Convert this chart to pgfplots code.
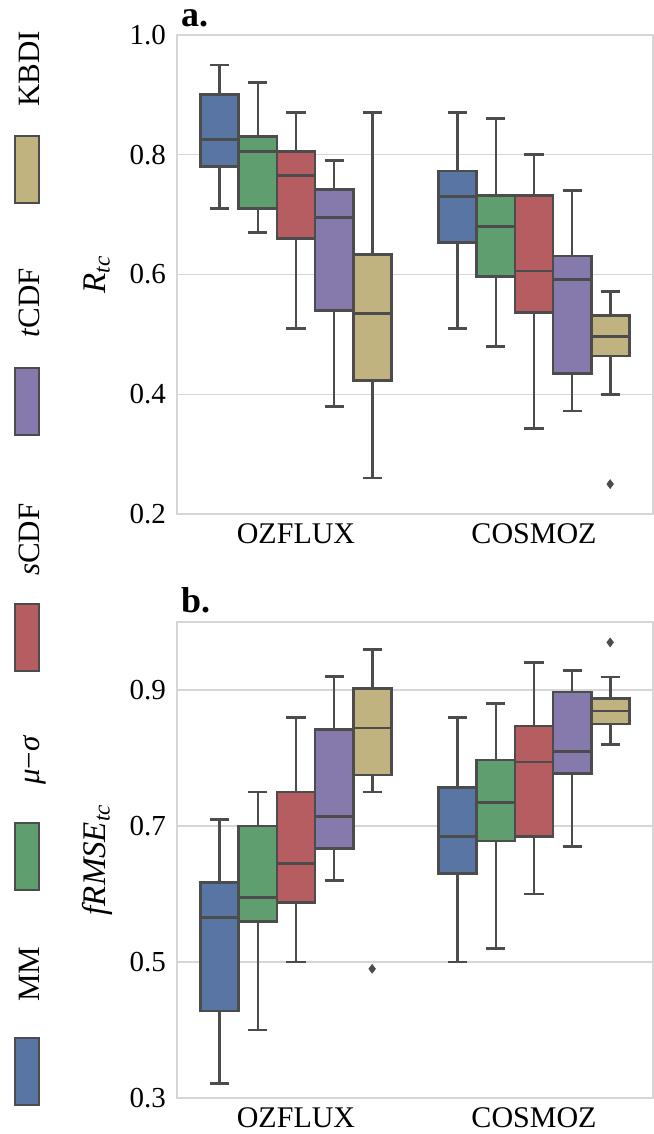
\documentclass[border=0pt]{standalone}
\usepackage{fontspec}
\setmainfont{Liberation Serif}
\usepackage{pgfplots}
\usepgfplotslibrary{statistics}
\pgfplotsset{compat=1.18}

\definecolor{cMM}{HTML}{5975A4}
\definecolor{cMS}{HTML}{5F9E6E}
\definecolor{cSC}{HTML}{B55D60}
\definecolor{cTC}{HTML}{857AAB}
\definecolor{cKB}{HTML}{C1B37F}
\definecolor{lg}{HTML}{4C4C4C}
\definecolor{gridc}{HTML}{D6D6D6}

\pgfplotsset{
  mybox/.style={
    scale only axis, width=476pt,
    xmin=-0.5, xmax=1.5, xtick={0,1}, xticklabels={OZFLUX,COSMOZ},
    major tick length=0pt,
    ymajorgrids, xmajorgrids=false,
    grid style={gridc, line width=1.4pt},
    axis line style={gridc, line width=1.6pt},
    tick label style={inner sep=0pt},
    /pgf/number format/assume math mode=true,
    yticklabel style={font=\fontsize{29}{34}\selectfont, xshift=-11pt, /pgf/number format/fixed, /pgf/number format/fixed zerofill, /pgf/number format/precision=1},
    xticklabel style={font=\fontsize{30}{35}\selectfont, yshift=-9pt},
    ylabel style={at={(axis description cs:-0.151,0.5)}, anchor=base, font=\fontsize{33}{38}\selectfont},
    boxplot/draw direction=y,
    boxplot/box extend=0.16,
    boxplot/whisker extend=0.08,
  },
  bx/.style={draw=lg, fill=#1, line width=2.8pt, solid},
  outl/.style={only marks, mark=diamond*, mark size=4.5pt, mark options={fill=lg, draw=lg, line width=0.5pt}},
}

\begin{document}
\begin{tikzpicture}
\path[use as bounding box] (0pt,0pt) rectangle (653pt,-1134pt);

% ---------- panel a ----------
\begin{axis}[mybox, at={(177pt,-35pt)}, anchor=north west, height=479pt,
  ymin=0.2, ymax=1.0, ytick={0.2,0.4,0.6,0.8,1.0},
  ylabel={\textit{R}\textsubscript{\textit{tc}}}]
% OZFLUX
\addplot[bx=cMM, boxplot prepared={draw position=-0.32, lower whisker=0.71, lower quartile=0.78, median=0.825, upper quartile=0.90, upper whisker=0.95}] coordinates {};
\addplot[bx=cMS, boxplot prepared={draw position=-0.16, lower whisker=0.67, lower quartile=0.71, median=0.805, upper quartile=0.83, upper whisker=0.92}] coordinates {};
\addplot[bx=cSC, boxplot prepared={draw position=0, lower whisker=0.51, lower quartile=0.66, median=0.765, upper quartile=0.805, upper whisker=0.87}] coordinates {};
\addplot[bx=cTC, boxplot prepared={draw position=0.16, lower whisker=0.38, lower quartile=0.54, median=0.695, upper quartile=0.742, upper whisker=0.79}] coordinates {};
\addplot[bx=cKB, boxplot prepared={draw position=0.32, lower whisker=0.26, lower quartile=0.423, median=0.535, upper quartile=0.633, upper whisker=0.87}] coordinates {};
% COSMOZ
\addplot[bx=cMM, boxplot prepared={draw position=0.68, lower whisker=0.51, lower quartile=0.653, median=0.73, upper quartile=0.773, upper whisker=0.87}] coordinates {};
\addplot[bx=cMS, boxplot prepared={draw position=0.84, lower whisker=0.48, lower quartile=0.596, median=0.68, upper quartile=0.732, upper whisker=0.86}] coordinates {};
\addplot[bx=cSC, boxplot prepared={draw position=1.0, lower whisker=0.343, lower quartile=0.536, median=0.606, upper quartile=0.732, upper whisker=0.80}] coordinates {};
\addplot[bx=cTC, boxplot prepared={draw position=1.16, lower whisker=0.372, lower quartile=0.435, median=0.591, upper quartile=0.631, upper whisker=0.74}] coordinates {};
\addplot[bx=cKB, boxplot prepared={draw position=1.32, lower whisker=0.40, lower quartile=0.464, median=0.497, upper quartile=0.531, upper whisker=0.571}] coordinates {};
\addplot[outl] coordinates {(1.32,0.25)};
\end{axis}

% ---------- panel b ----------
\begin{axis}[mybox, at={(177pt,-622pt)}, anchor=north west, height=476pt,
  ymin=0.3, ymax=1.0, ytick={0.3,0.5,0.7,0.9},
  ylabel={\textit{fRMSE}\textsubscript{\textit{tc}}}]
% OZFLUX
\addplot[bx=cMM, boxplot prepared={draw position=-0.32, lower whisker=0.321, lower quartile=0.428, median=0.565, upper quartile=0.617, upper whisker=0.71}] coordinates {};
\addplot[bx=cMS, boxplot prepared={draw position=-0.16, lower whisker=0.40, lower quartile=0.56, median=0.595, upper quartile=0.70, upper whisker=0.75}] coordinates {};
\addplot[bx=cSC, boxplot prepared={draw position=0, lower whisker=0.50, lower quartile=0.588, median=0.645, upper quartile=0.75, upper whisker=0.859}] coordinates {};
\addplot[bx=cTC, boxplot prepared={draw position=0.16, lower whisker=0.62, lower quartile=0.667, median=0.714, upper quartile=0.842, upper whisker=0.92}] coordinates {};
\addplot[bx=cKB, boxplot prepared={draw position=0.32, lower whisker=0.75, lower quartile=0.775, median=0.844, upper quartile=0.902, upper whisker=0.959}] coordinates {};
\addplot[outl] coordinates {(0.32,0.49)};
% COSMOZ
\addplot[bx=cMM, boxplot prepared={draw position=0.68, lower whisker=0.50, lower quartile=0.63, median=0.685, upper quartile=0.757, upper whisker=0.859}] coordinates {};
\addplot[bx=cMS, boxplot prepared={draw position=0.84, lower whisker=0.52, lower quartile=0.678, median=0.735, upper quartile=0.797, upper whisker=0.88}] coordinates {};
\addplot[bx=cSC, boxplot prepared={draw position=1.0, lower whisker=0.60, lower quartile=0.685, median=0.794, upper quartile=0.847, upper whisker=0.94}] coordinates {};
\addplot[bx=cTC, boxplot prepared={draw position=1.16, lower whisker=0.67, lower quartile=0.777, median=0.809, upper quartile=0.897, upper whisker=0.929}] coordinates {};
\addplot[bx=cKB, boxplot prepared={draw position=1.32, lower whisker=0.82, lower quartile=0.85, median=0.869, upper quartile=0.887, upper whisker=0.919}] coordinates {};
\addplot[outl] coordinates {(1.32,0.97)};
\end{axis}

% ---------- panel titles ----------
\node[anchor=base west, inner sep=0pt, font=\bfseries\fontsize{36}{40}\selectfont] at (181pt,-27pt) {a.};
\node[anchor=base west, inner sep=0pt, font=\bfseries\fontsize{36}{40}\selectfont] at (181pt,-612pt) {b.};

% ---------- rotated legend ----------
\begin{scope}[every node/.style={rotate=90, anchor=base west, inner sep=0pt, font=\fontsize{31}{36}\selectfont}]
\filldraw[fill=cKB, draw=lg, line width=1.2pt] (15pt,-136pt) rectangle (39pt,-203pt);
\node at (39pt,-107pt) {KBDI};
\filldraw[fill=cTC, draw=lg, line width=1.2pt] (15pt,-368pt) rectangle (39pt,-435pt);
\node at (39pt,-338pt) {\textit{t}CDF};
\filldraw[fill=cSC, draw=lg, line width=1.2pt] (15pt,-604pt) rectangle (39pt,-671pt);
\node at (39pt,-576pt) {\textit{s}CDF};
\filldraw[fill=cMS, draw=lg, line width=1.2pt] (15pt,-823pt) rectangle (39pt,-890pt);
\node at (39pt,-785pt) {\textit{μ}−\textit{σ}};
\filldraw[fill=cMM, draw=lg, line width=1.2pt] (15pt,-1038pt) rectangle (39pt,-1105pt);
\node at (39pt,-1002pt) {MM};
\end{scope}
\end{tikzpicture}
\end{document}
